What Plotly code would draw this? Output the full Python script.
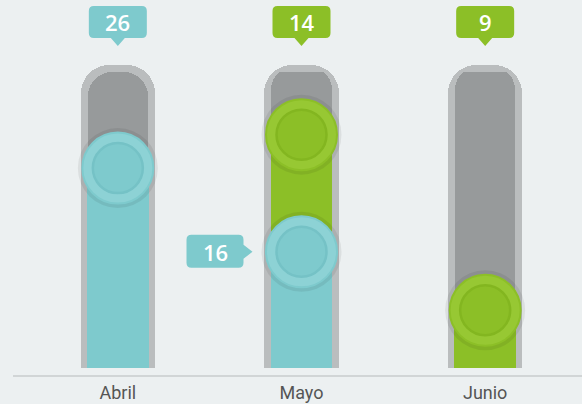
import plotly.graph_objects as go

categories = ["Abril", "Mayo", "Junio"]
serie_teal = [26, 16, None]
serie_green = [None, 14, 9]
track_outer = [38.3, 38.3, 38.3]
track_inner = [37.5, 37.5, 37.5]

BG = "#ecf0f1"
TEAL = "#7ecacd"
TEAL_LIGHT = "#8dd2d5"
TEAL_DARK = "#75c2c6"
GREEN = "#8cbf27"
GREEN_LIGHT = "#97c833"
GREEN_DARK = "#83b620"
GREY_OUT = "#babdbe"
GREY_IN = "#979a9b"

teal_base = [v if v is not None else 0 for v in serie_teal]
green_top = [(b + g) if g is not None else None for b, g in zip(teal_base, serie_green)]

fig = go.Figure()
fig.add_bar(x=categories, y=track_outer, width=0.403, marker=dict(color=GREY_OUT, cornerradius=28, line_width=0), hoverinfo="skip")
fig.add_bar(x=categories, y=track_inner, width=0.327, marker=dict(color=GREY_IN, cornerradius=24, line_width=0), hoverinfo="skip")
fig.add_bar(x=categories, y=serie_teal, width=0.335, marker=dict(color=TEAL, line_width=0))
fig.add_bar(x=categories, y=serie_green, base=teal_base, width=0.335, marker=dict(color=GREEN, line_width=0))


def knobs(ys, col, light, dark):
    fig.add_scatter(x=categories, y=ys, mode="markers", marker=dict(size=80, color="rgba(0,0,0,0.07)", line_width=0), hoverinfo="skip")
    fig.add_scatter(x=categories, y=ys, mode="markers", marker=dict(size=71, color=light, line=dict(color=col, width=2)), hoverinfo="skip")
    fig.add_scatter(x=categories, y=ys, mode="markers", marker=dict(size=50, color=col, line=dict(color=dark, width=2.5)), hoverinfo="skip")


knobs(serie_teal, TEAL, TEAL_LIGHT, TEAL_DARK)
knobs(green_top, GREEN, GREEN_LIGHT, GREEN_DARK)

top_bubble = ("M -24,-6 L 24,-6 Q 29,-6 29,-11 L 29,-33 Q 29,-38 24,-38 "
              "L 7,-38 L 0,-46 L -7,-38 L -24,-38 Q -29,-38 -29,-33 L -29,-11 Q -29,-6 -24,-6 Z")
side_bubble = ("M -110,17 L -63,17 Q -58,17 -58,12 L -58,7 L -49,0 L -58,-7 L -58,-11 "
               "Q -58,-16 -63,-16 L -110,-16 Q -115,-16 -115,-11 L -115,12 Q -115,17 -110,17 Z")

shapes = []
annotations = []
for cat, t, g in zip(categories, serie_teal, serie_green):
    val, col = (g, GREEN) if g is not None else (t, TEAL)
    shapes.append(dict(type="path", xref="x", yref="paper", xsizemode="pixel", ysizemode="pixel",
                       xanchor=cat, yanchor=1, path=top_bubble, fillcolor=col, line_width=0))
    annotations.append(dict(x=cat, y=1, yref="paper", text=str(val), showarrow=False,
                            yanchor="middle", xanchor="center", yshift=-22,
                            font=dict(family="Open Sans", size=22, color="white", weight=600)))
    if g is not None and t is not None:
        shapes.append(dict(type="path", xref="x", yref="y", xsizemode="pixel", ysizemode="pixel",
                           xanchor=cat, yanchor=t, path=side_bubble, fillcolor=TEAL, line_width=0))
        annotations.append(dict(x=cat, y=t, text=str(t), showarrow=False, xshift=-86, yshift=0,
                                yanchor="middle", xanchor="center",
                                font=dict(family="Open Sans", size=22, color="white", weight=600)))

shapes.append(dict(type="line", xref="paper", yref="paper", ysizemode="pixel", yanchor=0,
                   x0=-0.0236, x1=1.02, y0=-8, y1=-8, line=dict(color="#c9cccd", width=1.5)))

fig.update_layout(
    width=582, height=404,
    margin=dict(l=26, r=5, t=0, b=36),
    paper_bgcolor=BG, plot_bgcolor=BG,
    barmode="overlay", bargap=0, showlegend=False,
    shapes=shapes, annotations=annotations,
    xaxis=dict(showgrid=False, zeroline=False, showline=False, ticks="outside", ticklen=8,
               tickcolor="rgba(0,0,0,0)", tickfont=dict(family="Roboto", size=18, color="#555555")),
    yaxis=dict(range=[2.1, 46.1], visible=False, showgrid=False, zeroline=False),
)

fig.write_html("out.html", config={"displayModeBar": False},
               post_script="document.body.style.margin='0';document.body.style.overflow='hidden';document.body.style.background='" + BG + "';")
